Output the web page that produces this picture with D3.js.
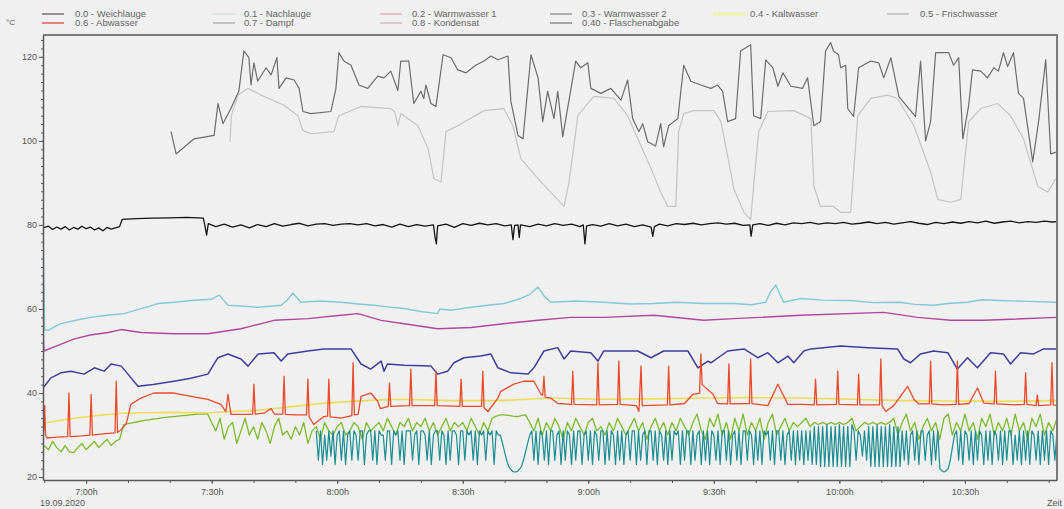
<!DOCTYPE html>
<html>
<head>
<meta charset="utf-8">
<script src="https://cdn.jsdelivr.net/npm/d3@7"></script>
<style>
  body { margin: 0; background: #f0f0f0; }
  svg { display: block; font-family: "Liberation Sans", Arial, sans-serif; }
</style>
</head>
<body>
<div id="chart"></div>
<script>
// all times are minutes after 7:00h on 19.09.2020, values in °C
const legendNames = [
    "0.0 - Weichlauge", "0.1 - Nachlauge", "0.2 - Warmwasser 1", "0.3 - Warmwasser 2", "0.4 - Kaltwasser", "0.5 - Frischwasser",
    "0.6 - Abwasser", "0.7 - Dampf", "0.8 - Kondensat", "0.40 - Flaschenabgabe"
];
const yTicks = [20, 40, 60, 80, 100, 120];
const xTicks = [0, 30, 60, 90, 120, 150, 180, 210];

// dark grey line on top
const dampf = [[20.3,102.2],[21.5,96.9],[25.8,100.5],[30.6,101.3],[31.5,108.9],[32.7,104.1],[34.6,107.7],[36.5,111.8],[37.7,121.4],[38.9,119.8],[39.4,113.3],[40.1,118.6],[41,114.2],[43,117.4],[44.2,115.7],[45.6,119.8],[46.1,112.5],[47.8,115],[49.7,114.5],[50.9,112.5],[51.8,107],[53.7,106.5],[58.5,107],[59.7,112.5],[60.4,121],[61.6,119],[63.3,118],[65.2,113.3],[67.3,112.5],[69.7,115.4],[71.2,115],[72.8,116.6],[74.5,112],[75.2,119],[77.1,119],[78.3,108.9],[80,111.8],[80.7,110.1],[81.2,113.3],[82.4,108.9],[83.6,108.2],[85.3,120.5],[87.2,119.8],[88.8,116.9],[90.8,116.2],[93.1,118],[95.1,119],[96.7,120.2],[98.4,119.3],[100.8,120.2],[101.5,109.4],[103.2,101.3],[104.4,100.5],[106.3,120.5],[108,115],[109.1,104.6],[110.3,111.8],[111.8,105.3],[112.7,111.8],[113.9,101],[117,119],[118.2,117.4],[119.9,118.6],[120.6,112.5],[123,111.3],[125.4,112.5],[127.8,109.7],[129.4,114.5],[130.6,105.3],[132.1,102.2],[133,104.1],[134.2,99.8],[136.1,98.8],[137.3,104.1],[138,98.6],[139.2,103.6],[141.4,105.3],[142.8,118],[144.5,114.2],[146.9,113.3],[149.3,112.5],[150.9,113.3],[152.1,111.8],[153.3,104.6],[155.2,105.3],[156.4,121.4],[158.8,122.9],[159.5,106],[161.2,105.3],[162.4,119.3],[164.1,117.4],[165.3,113],[166.5,116.2],[168.4,113],[171.2,112.5],[172.4,115],[173.9,103.6],[175.5,104.6],[176.7,121.4],[177.9,123.4],[178.6,121.4],[179.8,120.5],[180.3,117.4],[181.5,118],[182,107.7],[183.4,105.8],[184.6,117.4],[187.5,119],[189.4,118.6],[190.6,115],[192.3,119.8],[194.2,110.6],[196.6,107.7],[198.2,105.8],[199.4,119],[200.6,100],[201.8,104.6],[203,121],[206.1,121],[207.3,118],[208.5,119.8],[209.5,100.5],[210.9,108.5],[211.8,116.9],[213.8,116.6],[215.4,115],[216.9,117.4],[218,116.6],[219.2,121],[220.2,117.7],[221.6,121],[222.8,111.3],[224,110.1],[226.2,95],[227.6,104.6],[229.3,119.3],[230.5,96.9],[232.1,97.4]];

// light grey line
const kondensat = [[34.4,99.8],[34.7,106],[36.3,110.9],[38.7,112.5],[41.8,110.9],[47.3,108.5],[50.6,106],[51.8,102.5],[53.7,101.7],[59.2,102.2],[60.4,106],[65.7,108.2],[72.8,107.7],[73.8,106.8],[74.5,103.6],[75.2,106.5],[79.3,103.6],[81.7,98.2],[83.1,91],[84.8,90.2],[86,102.2],[88.8,103.6],[95.1,107.2],[99.8,107.7],[102,103.6],[103.9,95.7],[108,91],[111,87.8],[114.2,84.4],[115.4,90.2],[117.5,106],[121.3,110.6],[126.1,110.1],[129.4,106],[132.6,98.8],[135,93.4],[137.3,87.8],[139,84.4],[140.9,84.4],[141.6,102.2],[142.8,106.5],[145.2,107.2],[150,107.2],[151.7,104.6],[153.3,96.4],[154.8,88.5],[157.2,83],[158.8,81.3],[160.7,102.2],[162.9,107],[169.1,107.2],[173.2,105.3],[173.9,89.2],[175.5,84.4],[178.6,84.4],[180.3,83],[182.7,83],[184.4,106],[187.5,110.1],[191.5,110.9],[193.9,110.1],[197.8,103.6],[201.8,92.6],[203.5,86.1],[206.6,85.4],[209,86.1],[210.9,104.6],[213.8,107.7],[217.8,108.9],[220.9,106],[224,100.5],[227.4,89.2],[229.8,87.8],[231.7,91]];

// black line near 80
const weichlauge = [[-10.3,79.3],[-9,79.7],[-8,78.9],[-7,79.5],[-6,79],[-5,79.6],[-4,78.8],[-3,79.4],[-2,79],[-1,79.7],[0,79.1],[1,79.5],[2,78.8],[3,79.3],[4,78.6],[5,79.4],[6,79],[7,79.3],[8,79.6],[8.6,81.3],[12,81.5],[16,81.6],[20,81.7],[24,81.8],[28,81.6],[28.4,79.8],[28.8,77.6],[29.2,80.3],[31,79.6],[33,80.2],[35,79.5],[37,80],[39,79.3],[41,80.1],[43,79.6],[45,80.3],[47,79.7],[49,80.1],[51,80.4],[53,79.8],[55,80.2],[57,80.3],[59,79.9],[61,80.2],[63,80.3],[65,80],[67,80.3],[69,79.8],[71,80.1],[73,79.5],[75,80.2],[77,79.6],[79,80.1],[81,79.7],[83,80],[83.4,77],[83.7,75.5],[84,79.8],[86,80.2],[88,79.4],[90,80.3],[92,79.9],[94,80.4],[96,80],[98,80.3],[100,79.8],[101.6,80],[102,76.5],[102.4,79.9],[103.2,80],[103.5,77],[103.8,80],[106,79.6],[108,80.2],[110,79.8],[112,80.3],[114,79.9],[116,80.2],[118,79.6],[118.8,80],[119.2,75.5],[119.6,79.8],[121,80.1],[123,79.7],[125,80.3],[127,79.8],[129,80.2],[131,79.6],[133,80],[135,79.5],[135.4,77.3],[135.8,79.6],[137,80.2],[139,79.8],[141,80.3],[143,80.1],[145,80.4],[147,80],[149,80.3],[151,80.5],[153,80.2],[155,80.4],[157,79.9],[158.6,80],[158.9,77.3],[159.3,80],[161,80.3],[163,79.9],[165,80.4],[167,80],[169,80.5],[171,80.3],[173,80.6],[175,80.2],[177,80.5],[179,80.3],[181,80.6],[183,80.2],[185,80.4],[187,80.7],[189,80.3],[191,80.6],[193,80.2],[195,80.5],[197,80.8],[199,80.4],[201,80.1],[203,80.6],[205,80.3],[207,80.7],[209,80.4],[211,80.8],[213,80.5],[215,80.9],[217,80.4],[219,80.7],[221,80.9],[223,80.5],[225,80.8],[227,80.6],[229,80.9],[231,80.7],[232,80.8]];

// light blue line near 60
const nachlauge = [[-10.3,80],[-10.1,66],[-9.9,55],[-9,54.9],[-7.5,55.8],[-6,56.5],[-3,57.2],[-1,57.6],[1.2,58],[5,58.5],[9.1,58.9],[13.1,60.1],[15,60.6],[17.2,61.3],[21,61.6],[25.1,62],[29.9,62.3],[31.8,63.3],[33.9,60.9],[37,60.7],[41.1,60.4],[46.6,60.9],[48,62],[49.4,63.8],[51.3,61.6],[56,61.9],[60.9,61.6],[65,61.2],[68.8,60.9],[72,60.5],[76,60.1],[80,59.4],[84,58.9],[84.5,60],[87.2,59.7],[92,60.4],[96,60.9],[99.8,61.3],[103.9,62.5],[106,63.5],[108,65.2],[109.5,63],[111,61.6],[117,61.9],[123.7,61.6],[130,61.2],[135.7,61.3],[141,61.6],[147.6,61.3],[154.8,61.3],[159,61],[162.4,61.6],[163.5,64],[164.8,65.7],[165.8,63.5],[166.7,61.6],[170.8,62.5],[176,62.1],[182.7,62],[188,61.5],[194.6,61.6],[198,61.1],[202.5,60.9],[206,61.3],[210.6,61.6],[214,62.2],[218.5,62],[225,61.8],[231.9,61.6]];

// magenta line
const warmwasser1 = [[-10.3,57],[-10.1,50],[-7,51.2],[-2.8,52.9],[1,53.8],[5.3,54.4],[8.4,55.1],[13.1,54.4],[21,54.1],[29.1,54.1],[37,55.3],[44.9,57.3],[53,57.7],[60.9,58.5],[65,58.9],[70.5,57.3],[76,56.5],[84,55.3],[92,55.6],[99.8,56.5],[108,57.3],[115.8,58],[123.7,58],[135.7,58.5],[147.6,57.3],[154.8,57.7],[170.8,58.5],[190.6,59.2],[198.7,58],[206.6,57.3],[214.5,57.3],[231.9,58]];

// navy line
const warmwasser2 = [[-10.3,41.2],[-8.4,43.6],[-6,44.8],[-3.6,45.2],[-0.5,44.5],[2,46],[4.3,45.2],[6,46.9],[8.4,46.4],[10,44.5],[12.4,41.6],[16,42],[21,42.8],[25,43.5],[29.1,44.5],[31.5,48.4],[33.9,49.3],[37,48.1],[38.7,46.4],[41.1,49.3],[44.9,49.6],[46.6,47.6],[48.2,49.3],[53,50],[56.8,50.5],[63.3,50.5],[65.7,46.9],[68,45.7],[70.5,47.6],[71.2,45.2],[72,46.9],[76,46.6],[82.4,46.4],[84,44.5],[86.4,45.2],[87.9,47.2],[90.3,48.4],[94.3,48.8],[96.7,49.3],[98.4,46],[101.5,44.8],[105.6,44.5],[107,46],[109.4,50],[112.7,50.8],[114.2,48.1],[115.8,50],[120.6,49.6],[122.3,47.6],[123.7,50],[131.8,50],[135,48.4],[138,50],[143.8,50],[146.2,46],[148.6,47.6],[149.3,47.2],[153.3,50],[157.2,50.5],[160.5,48.4],[162.9,49.6],[165.3,47.2],[167.7,48.8],[169.1,47.2],[171.5,50],[173.2,50.5],[180.3,51.2],[186.8,50.8],[193.9,50.5],[195.4,48.1],[197,47.2],[199.4,49.3],[202.5,50],[205.9,49.6],[208.2,45.7],[210.6,48.4],[213,46],[216.1,49.6],[219.2,49.3],[220.9,46.9],[223.3,49.6],[226.4,49.3],[228.8,50.5],[231.9,50.5]];

// yellow line
const kaltwasser = [[-10.3,32.8],[-6,33.5],[-3,34],[2,34.6],[8.4,35.2],[14,35.3],[20,35.4],[29,35.3],[35,35.6],[40,35.8],[45,36.3],[51.3,37],[57,37.6],[63.3,38],[69,38.3],[75,38.5],[87,38.2],[99,38.2],[111,38.8],[123,38.5],[135,38.6],[147,38.8],[159,38.9],[171,38.8],[183,38.5],[195,38.2],[207,38.1],[218,38],[232,38.2]];

// red line with the short peaks
const abwasser = [[-10.3,40],[-10.1,31],[-9.9,37],[-9.7,30],[-9.3,29.3],[-7,29.5],[-4.4,29.6],[-4.1,40],[-3.8,29.6],[-1,29.8],[0.9,30],[1.2,39.7],[1.5,30],[4,30.3],[6.9,30.5],[7.2,42.8],[7.5,30.6],[8.4,31.3],[9.6,32.7],[10.7,37.3],[13.1,38.8],[16.2,40],[21,40],[25.1,39.2],[29.1,38.5],[32.2,37.3],[33.4,35.6],[33.9,39.7],[34.6,34.9],[38.7,34.9],[39.8,35],[40.1,42.1],[40.4,35],[42.5,35.2],[44.2,36.3],[45,35],[47,35],[47.3,44],[47.6,34.9],[50,34.8],[52.7,34.8],[53,43.3],[53.3,34.3],[54.4,32.5],[56.8,34.4],[57.7,34.5],[58,43.3],[58.3,34.3],[60.9,34],[63.5,34.6],[63.8,47.2],[64.1,34.8],[65,34.9],[65.7,39.2],[68,40],[69.7,38],[70.3,36.3],[72.2,36.8],[72.5,42.4],[72.8,36.8],[77.3,37],[77.6,45.7],[77.9,37],[83.3,37],[83.6,45.2],[83.9,37],[89.3,36.8],[89.6,43.3],[89.9,36.8],[94.5,36.8],[94.8,45.2],[95.1,36.5],[96,35.6],[98.4,38.8],[99.1,40.4],[102.2,42.1],[104.6,42.8],[107,42.8],[108.7,39.7],[109.1,39.5],[109.4,44],[109.7,39],[111,38.8],[112.7,37.5],[116,37.3],[116.3,45.2],[116.6,37.3],[122,37.2],[122.3,47.2],[122.6,37.2],[127,37.3],[127.3,47.6],[127.6,37.3],[131.5,37],[132.1,35.6],[132.6,46.4],[132.9,37],[138.9,37.2],[139.2,46.4],[139.5,37.2],[143,37.5],[145,39.7],[146.6,40],[146.9,49.3],[147.2,42],[149.8,39.7],[150.9,37.5],[153.3,37.4],[153.6,46.9],[153.9,37.4],[158.5,37.5],[158.8,48.1],[159.1,37.5],[162.9,37],[165.3,42.1],[167.7,37.3],[171,37.3],[174,37.2],[174.3,43.3],[174.6,37.2],[179.3,37.3],[179.6,45.2],[179.9,37.3],[184.3,37.2],[184.6,44.5],[184.9,37.2],[189.6,37.2],[189.9,48.1],[190.2,37],[191.1,35.6],[193,37],[196.3,41.6],[197.8,38.5],[199,37.4],[201.5,37.4],[201.8,47.6],[202.1,37.4],[205,37.2],[207.9,37.3],[208.2,47.6],[208.5,37.3],[211,37.5],[213,41.2],[214.5,37.6],[217,37.4],[217.3,45.2],[217.6,37.4],[222,37.2],[224.2,37.3],[224.5,44.8],[224.8,37.3],[227,37],[227.3,39.5],[227.6,37],[230.5,37.2],[230.8,47.2],[231.1,37.2],[232,37]];

// green line, one reading per minute from -10 min
const frischwasserStart = -10;
const frischwasserStep = 1;
const frischwasser = [
    27.5,26.5,28.5,27,26,27.5,26,25.8,27,28,26.5,27.5,28.5,27,28,29,27.5,28.5,29,
    32.5,32.7,32.9,33.1,33.3,33.5,33.6,33.8,33.9,34.1,34.2,34.3,34.4,34.5,34.6,34.7,34.8,34.9,35,35,35.1,
    33,31,34,29,32,33,28,31,34,30,
    32,29,33,31,28,32,34,30,31,29,
    32,30,33,28,31,32,29,33,31,30,
    32,33,30,31,33,32,29,33,31,32,
    33,31,34,32,30,33,32,34,31,33,
    32,34,31,33,30,32,34,31,33,32,
    33,31,34,32,30,33,31,34,34.5,34.8,
    34.8,34.7,34.5,34.4,34.6,34.8,33,31,34,30,
    33,31,34,32,29,33,31,34,32,30,
    33,34,31,32,30,33,31,34,32,30,
    32,34,31,33,29,32,34,31,33,30,
    33,31,34,32,30,33,35,31,29,34,
    32,35,30,33,29,34,31,35,30,33,
    31,34,29,33,35,30,32,34,31,33,
    32,33,34,32,33,32.5,33,32.5,33,32.5,
    33,32.5,33,34,31,32,33,32.5,33,32.5,
    33,32.5,33,34,30,33,35,31,33,29,
    32,34,31,33,29,34,35,30,33,31,
    35,31,33,29,34,32,35,30,33,31,
    34,30,35,31,33,29,34,32,35,30,
    33,31,34
];

// teal line, one reading per half minute from 55 min
const flaschenStart = 55;
const flaschenStep = 0.5;
const flaschenabgabe = [
    31,24,31,23,30,24,31,25,31,23,30,31,24,31,23,30,31,24,31,30,
    24,31,31,23,30,31,31,24,31,23,31,30,30,24,31,31,23,31,30,31,
    24,31,23,31,31,31,24,30,31,23,31,31,30,24,31,23,30,31,31,24,
    31,30,23,31,24,31,31,30,23,31,31,24,31,30,31,24,31,23,31,30,
    31,24,31,30,31,23,31,30,30,28,26,24,22.5,21.8,21.3,21.2,21.3,21.8,22.5,24,
    26,28,30,31,24,31,23,31,30,24,31,23,31,31,24,30,31,23,31,24,
    31,30,23,31,24,31,31,23,30,31,24,31,23,31,30,24,31,31,23,31,
    24,31,30,23,31,24,31,23,30,31,24,31,31,23,31,24,30,31,23,31,
    31,24,31,23,31,30,24,31,23,31,24,31,30,31,23,31,24,31,31,23,
    31,24,30,31,23,31,24,31,23,31,30,24,31,23,31,31,24,31,23,30,
    31,24,31,23,31,31,24,31,30,23,31,24,31,23,31,30,31,24,31,23,
    31,31,24,31,23,30,31,24,31,23,31,24,31,23,31,24,31,23,32,23,
    32,22.5,32,22.5,32.5,22.5,32,22.5,32,22.5,32.5,22.5,32,22.5,32,22.5,32.5,31,24,31,
    30,25,31,24,32,22.5,32,22.5,32.5,22.5,32,22.5,32,22.5,32.5,22.5,32,22.5,32,22.5,
    31,24,31,23,30,31,24,31,23,31,31,24,30,31,23,31,24,31,22,21.5,
    21.2,21.5,22,24,27,30,31,24,31,23,31,30,24,31,23,31,24,31,30,23,
    31,24,31,23,31,30,24,31,23,31,24,31,31,23,30,24,31,23,31,24,
    31,23,31,30,24,31,23,31,24,31,23,31,30,24,31
];

const width = 1064;
const height = 509;
const plotL = 43, plotR = 1057, plotT = 35, plotB = 480;

const day = new Date(2020, 8, 19, 7, 0);
const toDate = m => new Date(day.getTime() + m * 60000);

const svg = d3.select("#chart")
    .append("svg")
    .attr("width", width)
    .attr("height", height)
    .style("background", "#f0f0f0");

const x = d3.scaleTime()
    .domain([toDate(-10.3), toDate(232)])
    .range([plotL, plotR]);

const y = d3.scaleLinear()
    .domain([19.3, 125.2])
    .range([plotB, plotT]);

svg.append("clipPath").attr("id", "plot")
    .append("rect")
    .attr("x", plotL).attr("y", plotT)
    .attr("width", plotR - plotL).attr("height", plotB - plotT);

const line = d3.line()
    .x(d => x(toDate(d[0])))
    .y(d => y(d[1]));

// uniform series -> [minute, value] pairs
const steps = (start, step, vals) => vals.map((v, i) => [start + i * step, v]);

const series = [
    {data: kondensat, color: "#c4c4c4", w: 1.2},
    {data: dampf, color: "#6c6c6c", w: 1.2},
    {data: weichlauge, color: "#151515", w: 1.3},
    {data: nachlauge, color: "#84c8d8", w: 1.4},
    {data: warmwasser1, color: "#b0479e", w: 1.4},
    {data: warmwasser2, color: "#3e3e9a", w: 1.5},
    {data: steps(frischwasserStart, frischwasserStep, frischwasser), color: "#7cba2c", w: 1.3},
    {data: steps(flaschenStart, flaschenStep, flaschenabgabe), color: "#1b8c90", w: 1.2},
    {data: kaltwasser, color: "#eedc5a", w: 1.6},
    {data: abwasser, color: "#ea4a2c", w: 1.3}
];

svg.append("g")
    .attr("clip-path", "url(#plot)")
    .selectAll("path")
    .data(series)
    .join("path")
    .attr("fill", "none")
    .attr("stroke", d => d.color)
    .attr("stroke-width", d => d.w)
    .attr("stroke-linejoin", "round")
    .attr("d", d => line(d.data));

// frame top and right
svg.append("path")
    .attr("d", `M${plotL},${plotT}H${plotR}V${plotB}`)
    .attr("fill", "none")
    .attr("stroke", "#7a7a7a")
    .attr("stroke-width", 2);

// y axis with minor ticks every 2°
svg.append("g")
    .attr("transform", `translate(${plotL},0)`)
    .call(d3.axisLeft(y).tickValues(d3.range(20, 126, 2)).tickSize(2).tickFormat(""))
    .call(g => g.select(".domain").remove());

svg.append("g")
    .attr("transform", `translate(${plotL},0)`)
    .call(d3.axisLeft(y).tickValues(yTicks).tickSize(4).tickSizeOuter(0).tickPadding(2));

// x axis, minor ticks every 10 min
svg.append("g")
    .attr("transform", `translate(0,${plotB})`)
    .call(d3.axisBottom(x).tickValues(d3.range(-10, 232, 10).map(toDate)).tickSize(3).tickFormat(""))
    .call(g => g.select(".domain").remove());

svg.append("g")
    .attr("transform", `translate(0,${plotB})`)
    .call(d3.axisBottom(x)
        .tickValues(xTicks.map(toDate))
        .tickSize(4)
        .tickSizeOuter(0)
        .tickPadding(5)
        .tickFormat(d => d3.timeFormat("%-H:%M")(d) + "h"));

svg.selectAll(".domain").attr("stroke", "#5a5a5a").attr("stroke-width", 1.5);
svg.selectAll(".tick line").attr("stroke", "#5a5a5a");
svg.selectAll(".tick text").attr("fill", "#555").style("font-size", "9px");

svg.append("text")
    .attr("x", 40).attr("y", 506)
    .attr("fill", "#555").style("font-size", "9px")
    .text("19.09.2020");

svg.append("text")
    .attr("x", 1062).attr("y", 506)
    .attr("text-anchor", "end")
    .attr("fill", "#555").style("font-size", "9px")
    .text("Zeit");

svg.append("text")
    .attr("x", 6).attr("y", 25)
    .attr("fill", "#555").style("font-size", "8px")
    .text("°C");

// legend: 6 columns, 2 rows
const legendColors = ["#6a5a5e", "#d2dcdc", "#d6aab4", "#8c8c8c", "#eef2b8", "#b4b4b4",
                      "#d8454a", "#a8a8a8", "#cfb2b8", "#7c7c7c"];
const colX = [42, 213, 380, 550, 713, 887];
const colText = [75, 244, 412, 582, 750, 920];

const legend = svg.append("g")
    .selectAll("g")
    .data(legendNames)
    .join("g")
    .attr("transform", (d, i) => `translate(0,${i < 6 ? 14 : 23})`);

legend.append("line")
    .attr("x1", (d, i) => colX[i % 6])
    .attr("x2", (d, i) => colX[i % 6] + (i === 4 ? 32 : 22))
    .attr("stroke", (d, i) => legendColors[i])
    .attr("stroke-width", (d, i) => i === 4 ? 4 : 1.3);

legend.append("text")
    .attr("x", (d, i) => colText[i % 6])
    .attr("y", 3)
    .attr("fill", "#666")
    .style("font-size", "9.5px")
    .text(d => d);
</script>
</body>
</html>
